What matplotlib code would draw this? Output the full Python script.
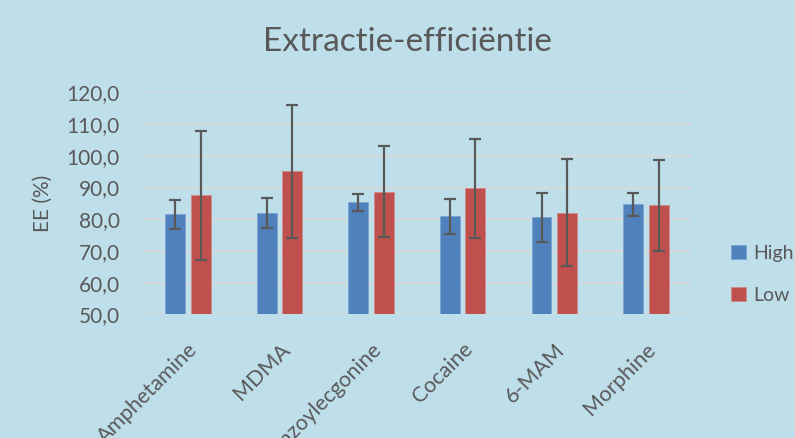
import matplotlib.pyplot as plt
import numpy as np

plt.rcParams['font.family'] = ['Lato', 'DejaVu Sans']

# data
compounds = ['Amphetamine', 'MDMA', 'Benzoylecgonine', 'Cocaine', '6-MAM', 'Morphine']
high = [81.5, 81.9, 85.3, 80.9, 80.6, 84.7]
high_err = [4.6, 4.7, 2.6, 5.6, 7.7, 3.6]
low = [87.5, 95.1, 88.7, 89.7, 82.0, 84.4]
low_err = [20.4, 21.0, 14.3, 15.6, 16.9, 14.4]

bg = '#BEDFEA'
txt = '#595959'

fig = plt.figure(figsize=(7.95, 4.38), dpi=100, facecolor=bg)
ax = fig.add_axes([0.1786, 0.2824, 0.870 - 0.1786, 0.789 - 0.2824])
ax.set_facecolor(bg)

x = np.arange(len(compounds))
w = 0.218
off = 0.139
ekw = dict(ecolor='#595959', elinewidth=1.6, capsize=4.5, capthick=1.6)
ax.bar(x - off, high, w, color='#4F81BD', edgecolor='#7DA3D0',
       linewidth=0.6, yerr=high_err, error_kw=ekw, label='High', zorder=3)
ax.bar(x + off, low, w, color='#C0504D', edgecolor='#D08A88',
       linewidth=0.6, yerr=low_err, error_kw=ekw, label='Low', zorder=3)

ax.set_ylim(50, 120)
ax.set_xlim(-0.5, len(compounds) - 0.5)
ax.set_yticks(np.arange(50, 121, 10))
ax.set_yticklabels([f'{v:.1f}'.replace('.', ',') for v in np.arange(50, 121, 10)])
ax.yaxis.grid(True, color='#D9D9D9', linewidth=1.3, zorder=0)
ax.set_axisbelow(True)
for s in ax.spines.values():
    s.set_visible(False)
ax.tick_params(axis='both', length=0, labelsize=15, colors=txt)
ax.tick_params(axis='y', pad=16)

ax.set_xticks(x)
ax.set_xticklabels(compounds, rotation=45, ha='right', va='top',
                   rotation_mode='anchor', fontsize=15.5, color=txt)
ax.tick_params(axis='x', pad=18)

ax.set_ylabel('EE (%)', fontsize=15, color=txt, labelpad=10)
fig.text(0.513, 0.905, 'Extractie-efficiëntie', ha='center', va='center',
         fontsize=24, color=txt)

leg = ax.legend(loc='center left', bbox_to_anchor=(1.04, 0.18), frameon=False,
                fontsize=14, handlelength=0.75, handleheight=0.75,
                handletextpad=0.4, labelspacing=1.3)
for t in leg.get_texts():
    t.set_color(txt)

fig.savefig('out.png', dpi=100, facecolor=bg)
